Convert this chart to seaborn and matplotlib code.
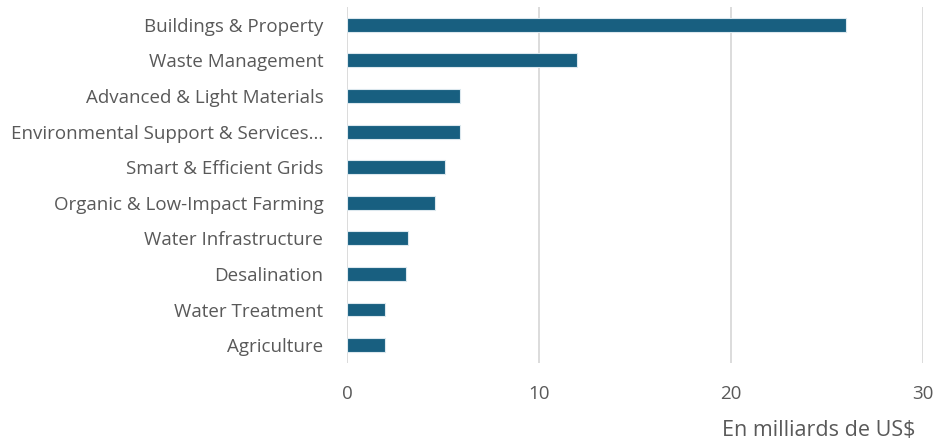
import matplotlib
matplotlib.use("Agg")
import matplotlib.pyplot as plt
import seaborn as sns
import pandas as pd

categories = [
    "Buildings & Property",
    "Waste Management",
    "Advanced & Light Materials",
    "Environmental Support & Services...",
    "Smart & Efficient Grids",
    "Organic & Low-Impact Farming",
    "Water Infrastructure",
    "Desalination",
    "Water Treatment",
    "Agriculture",
]
values = [26.0, 12.0, 5.9, 5.9, 5.1, 4.6, 3.2, 3.1, 2.0, 2.0]
xticks = [0, 10, 20, 30]
xlabel = "En milliards de US$"

df = pd.DataFrame({"cat": categories, "val": values})

sns.set_theme(style="white")
plt.rcParams["font.family"] = ["Open Sans", "DejaVu Sans"]

text_color = "#595959"
bar_color = "#185f80"

fig = plt.figure(figsize=(9.35, 4.41), dpi=100)
ax = fig.add_axes([0.371, 0.177, 0.616, 0.807])

sns.barplot(data=df, x="val", y="cat", orient="h", color=bar_color,
            width=0.39, edgecolor="#dce8ee", linewidth=0.8, ax=ax, zorder=3,
            saturation=1)

ax.set_xlim(0, 30)
ax.set_ylim(9.5, -0.5)
ax.set_xticks(xticks)
ax.xaxis.grid(True, color="#d9d9d9", linewidth=1.3, zorder=0)
ax.yaxis.grid(False)
for s in ax.spines.values():
    s.set_visible(False)

ax.tick_params(axis="y", length=0, pad=17, labelsize=13.5, labelcolor=text_color)
ax.tick_params(axis="x", length=6, width=1.3, color="#d9d9d9", pad=10,
               labelsize=13.5, labelcolor=text_color, direction="out")
ax.set_ylabel("")
ax.set_xlabel("")
fig.text(0.979, 0.0, xlabel, ha="right", va="bottom", fontsize=15.5,
         color=text_color)

fig.savefig("out.png", dpi=100)
